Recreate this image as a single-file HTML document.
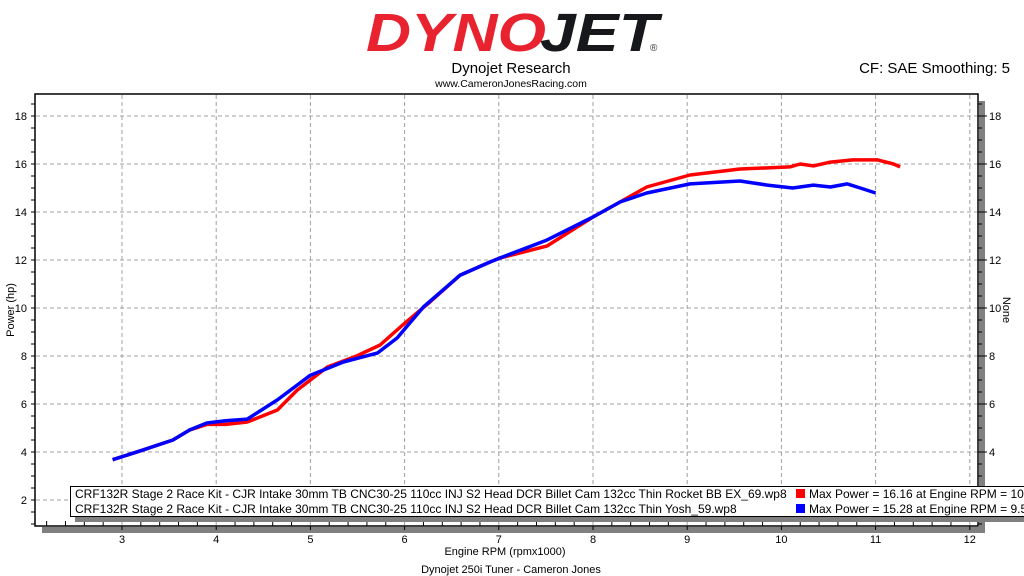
<!DOCTYPE html>
<html><head><meta charset="utf-8"><style>
html,body{margin:0;padding:0;background:#fff;}
svg{display:block;font-family:"Liberation Sans",sans-serif;}
</style></head><body>
<svg id="chart" width="1024" height="576" viewBox="0 0 1024 576" xmlns="http://www.w3.org/2000/svg">
<g>
<text x="366" y="51" font-size="54" font-weight="900" font-style="italic" fill="#e8222e" textLength="180" lengthAdjust="spacingAndGlyphs">DYNO</text>
<text x="540" y="51" font-size="54" font-weight="900" font-style="italic" fill="#16181c" textLength="118" lengthAdjust="spacingAndGlyphs">JET</text>
<text x="650" y="51" font-size="10" fill="#333">®</text>
</g>
<text x="511" y="73" font-size="15" text-anchor="middle" fill="#000">Dynojet Research</text>
<text x="511" y="87" font-size="10.5" text-anchor="middle" fill="#000">www.CameronJonesRacing.com</text>
<text x="1010" y="73" font-size="15" text-anchor="end" fill="#000">CF: SAE Smoothing: 5</text>
<rect x="979" y="101" width="6" height="432" fill="#808080"/>
<rect x="42" y="527" width="943" height="6" fill="#808080"/>
<rect x="35" y="94" width="943" height="432" fill="#fff" stroke="#000" stroke-width="1.5"/>
<g id="grid"></g>
<g id="axes"></g>
<g id="series"></g>
<g>
<rect x="75" y="517" width="949" height="5" fill="#808080"/>
<rect x="70.5" y="486.5" width="960" height="30" fill="#fff" stroke="#000"/>
<text x="75" y="498" font-size="12" fill="#000">CRF132R Stage 2 Race Kit - CJR Intake 30mm TB CNC30-25 110cc INJ S2 Head DCR Billet Cam 132cc Thin Rocket BB EX_69.wp8</text>
<text x="75" y="513" font-size="12" fill="#000">CRF132R Stage 2 Race Kit - CJR Intake 30mm TB CNC30-25 110cc INJ S2 Head DCR Billet Cam 132cc Thin Yosh_59.wp8</text>
<rect x="796" y="489" width="9" height="9" fill="#ff0000"/>
<rect x="796" y="504" width="9" height="9" fill="#0000ff"/>
<text x="809" y="498" font-size="12" fill="#000">Max Power = 16.16 at Engine RPM = 10.85</text>
<text x="809" y="513" font-size="12" fill="#000">Max Power = 15.28 at Engine RPM = 9.56</text>
</g>
<text x="505" y="555" font-size="11" text-anchor="middle">Engine RPM (rpmx1000)</text>
<text x="511" y="573" font-size="11" text-anchor="middle">Dynojet 250i Tuner - Cameron Jones</text>
<text transform="translate(14,310) rotate(-90)" font-size="11" text-anchor="middle">Power (hp)</text>
<text transform="translate(1003,310) rotate(90)" font-size="11" text-anchor="middle">None</text>
</svg>
<script>
const xTicks=[3,4,5,6,7,8,9,10,11,12];
const yTicksLeft=[2,4,6,8,10,12,14,16,18];
const yTicksRight=[4,6,8,10,12,14,16,18];
const redRpm=[2.90,3.22,3.54,3.72,3.90,4.10,4.33,4.65,4.86,5.18,5.49,5.74,5.98,6.27,6.59,6.91,7.01,7.51,8.0,8.29,8.57,9.03,9.56,10.09,10.2,10.34,10.52,10.76,11.02,11.19,11.26];
const redHp=[3.68,4.08,4.5,4.92,5.15,5.15,5.25,5.75,6.58,7.54,8.0,8.46,9.29,10.25,11.37,11.92,12.08,12.58,13.79,14.42,15.04,15.54,15.79,15.88,16.0,15.92,16.08,16.17,16.17,16.0,15.88];
const blueRpm=[2.90,3.22,3.54,3.72,3.90,4.10,4.33,4.65,5.0,5.35,5.71,5.92,6.20,6.59,6.91,7.01,7.51,8.0,8.29,8.57,9.03,9.56,9.85,10.12,10.34,10.52,10.70,10.87,11.0];
const blueHp=[3.68,4.08,4.5,4.92,5.21,5.3,5.37,6.17,7.2,7.75,8.12,8.75,10.04,11.37,11.92,12.08,12.83,13.79,14.42,14.79,15.17,15.29,15.12,15.0,15.12,15.04,15.17,14.96,14.79];
const NS="http://www.w3.org/2000/svg";
const X=v=>122+(v-3)*94.2;
const Y=v=>116+(18-v)*24;
function mk(tag,attrs,parent){const e=document.createElementNS(NS,tag);for(const k in attrs)e.setAttribute(k,attrs[k]);parent.appendChild(e);return e;}
const grid=document.getElementById('grid'),axes=document.getElementById('axes'),series=document.getElementById('series');
xTicks.forEach(t=>{const l=mk('line',{x1:X(t),x2:X(t),y1:95,y2:525,stroke:'#a0a0a0','stroke-dasharray':'4,3'},grid);


const tx=mk('text',{x:X(t),y:543,'font-size':11,'text-anchor':'middle'},axes);tx.textContent=t;

});
for(let v=2.2;v<12.09;v+=0.2){const maj=v%1<0.05||v%1>0.95;mk('line',{x1:X(v),x2:X(v),y1:526,y2:maj?530:521,stroke:'#000'},axes);}
yTicksLeft.forEach(t=>{const l=mk('line',{x1:36,x2:977,y1:Y(t),y2:Y(t),stroke:'#a0a0a0','stroke-dasharray':'4,3'},grid);


const tx=mk('text',{x:27,y:Y(t)+4,'font-size':11,'text-anchor':'end'},axes);tx.textContent=t;

});
yTicksRight.forEach(t=>{const tx=mk('text',{x:989,y:Y(t)+4,'font-size':11},axes);tx.textContent=t;

});
for(let v=1;v<=18.9;v+=0.5){const y=Y(v);const maj=Math.abs(v%2)<0.01;
mk('line',{x1:35,x2:31,y1:y,y2:y,stroke:'#000'},axes);
mk('line',{x1:978,x2:maj?987:982,y1:y,y2:y,stroke:'#000'},axes);}
function draw(xs,ys,color,name){const d=xs.map((x,i)=>(i?'L':'M')+X(x).toFixed(1)+','+Y(ys[i]).toFixed(1)).join(' ');
const p=mk('path',{d:d,fill:'none',stroke:color,'stroke-width':3.5,'stroke-linejoin':'round'},series);

}
draw(redRpm,redHp,'#ff0000','power-curve-red');
draw(blueRpm,blueHp,'#0000ff','power-curve-blue');
</script>
</body></html>
